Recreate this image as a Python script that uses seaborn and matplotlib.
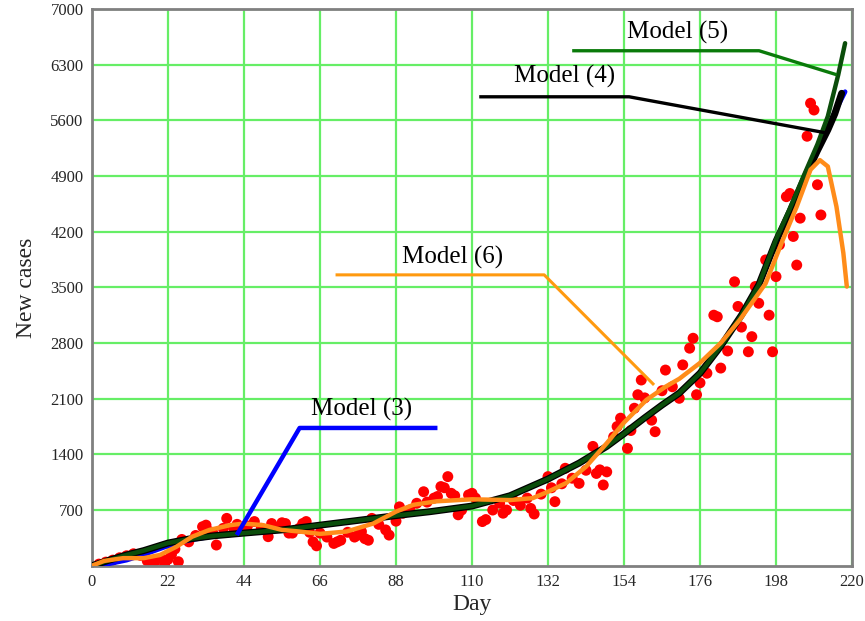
import numpy as np
import pandas as pd
import matplotlib
matplotlib.use("Agg")
import matplotlib.pyplot as plt
import seaborn as sns

# ---- observed data (red dots) ----
obs_days = [2,4,6,8,10,12,14,16,18,20,21,22,23,24,25,26,28,30,32,33,34,35,36,38,39,41,42,44,45,47,
            49,51,52,54,55,56,57,58,60,61,62,63,64,65,66,68,70,71,72,74,76,77,78,79,80,81,83,85,86,88,
            89,90,92,94,96,97,99,100,101,102,103,104,105,106,107,109,110,111,113,114,116,118,119,120,122,124,126,127,128,130,
            132,133,134,136,137,139,141,143,145,146,147,148,149,151,152,153,155,156,157,158,159,160,162,163,165,166,168,170,171,173,
            174,175,176,178,180,181,182,184,186,187,188,190,191,192,193,195,196,197,198,199,201,202,203,204,205,207,208,209,210,211]
obs_cases = [20,45,70,100,125,150,130,60,40,90,10,80,140,210,50,330,300,380,490,510,430,410,260,470,595,470,520,480,500,555,
             470,365,530,480,540,530,410,410,470,530,555,420,300,250,410,360,280,300,320,420,360,385,430,340,320,595,520,450,385,560,
             740,660,700,785,930,800,850,870,995,980,1120,910,880,640,700,890,910,850,555,580,700,785,660,700,820,760,850,720,650,900,
             1120,980,805,1030,1225,1100,1035,1200,1500,1160,1205,1015,1180,1620,1750,1855,1475,1700,1980,2150,2335,2110,1830,1685,2200,2460,2250,2105,2525,2735,
             2860,2150,2300,2420,3150,3130,2485,2700,3570,3260,3000,2690,2880,3510,3300,3845,3150,2690,3635,4035,4640,4680,4140,3780,4370,5400,5815,5730,4790,4410]

# ---- model curves ----
m3_days = [0,5,10,15,22,28,35,44,55,66,78,88,98,110,121,132,141,149,154,160,165,170,176,182,188,193,198,202,206,210,213,215,218]
m3_vals = [0,25,70,140,250,320,370,405,450,510,575,630,680,750,880,1090,1290,1500,1660,1860,2020,2170,2420,2760,3150,3530,4080,4450,4850,5220,5490,5700,5960]

m4_days = [0,5,10,15,22,28,35,44,55,66,78,88,98,110,121,132,141,149,154,160,165,170,176,182,188,193,198,202,206,210,213,215,217]
m4_vals = [0,70,135,190,285,335,375,410,450,510,575,630,680,750,880,1090,1290,1500,1660,1860,2020,2170,2420,2760,3150,3530,4080,4450,4850,5220,5480,5680,5940]

m5_days = [0,5,10,15,22,28,35,44,55,66,78,88,98,110,121,132,141,149,154,160,165,170,176,182,188,193,198,202,206,210,213,216,218]
m5_vals = [0,70,135,190,285,335,375,410,450,510,575,630,680,750,880,1090,1290,1500,1660,1860,2020,2170,2420,2760,3150,3530,4100,4490,4900,5300,5650,6170,6570]

m6_days = [0,3.5,9,15,19.7,24.5,29,34,40,44,49.5,55,60,66,73.7,81.4,88,93,99.8,110,121,127.6,132,137.3,143,149,154,160.5,166,170,176,182,187.5,195,200,204,208,210.7,213,215.5,217.5,218.5]
m6_vals = [0,60,95,95,135,240,365,450,510,530,510,450,430,400,430,530,680,765,810,835,825,850,930,1040,1245,1540,1800,2085,2250,2350,2550,2800,3090,3550,4100,4515,4980,5100,5020,4515,3930,3510]

x_ticks = [0,22,44,66,88,110,132,154,176,198,220]
y_ticks = [700,1400,2100,2800,3500,4200,4900,5600,6300,7000]

# callout anchors (day, cases): curve point, elbow, end, label position
callouts = {
    "Model (3)": dict(pts=[(41.9,386),(60.1,1732),(100,1732)], text=(78,1960), color="#0000ff", lw=3.2),
    "Model (6)": dict(pts=[(162.7,2273),(130.9,3657),(70.5,3657)], text=(104.3,3880), color="#ff9a10", lw=2.2),
    "Model (4)": dict(pts=[(212.4,5443),(155.5,5896),(112.1,5896)], text=(136.7,6150), color="#000000", lw=2.4),
    "Model (5)": dict(pts=[(215.6,6173),(193.1,6475),(139,6475)], text=(169.4,6700), color="#0a7a0a", lw=2.4),
}

sns.set_style("white")
plt.rcParams['font.family'] = ['Liberation Serif', 'DejaVu Serif']

fig = plt.figure(figsize=(8.65, 6.21), dpi=100)
ax = fig.add_axes([92/865, 1-565.7/621, (852-92)/865, (565.7-9)/621])

obs = pd.DataFrame({"day": obs_days, "cases": obs_cases})
sns.scatterplot(data=obs, x="day", y="cases", ax=ax, color="#ff0000", s=62,
                edgecolor="none", linewidth=0, zorder=2)

sns.lineplot(x=m3_days, y=m3_vals, ax=ax, color="#0000ff", lw=3.4, zorder=3)
sns.lineplot(x=m4_days, y=m4_vals, ax=ax, color="#000000", lw=5.0, zorder=4)
sns.lineplot(x=m5_days, y=m5_vals, ax=ax, color="#0b4d0b", lw=3.2, zorder=5)
sns.lineplot(x=m6_days, y=m6_vals, ax=ax, color="#ff8c1a", lw=3.2, zorder=6)

for label, c in callouts.items():
    xs = [p[0] for p in c["pts"]]
    ys = [p[1] for p in c["pts"]]
    ax.plot(xs, ys, color=c["color"], lw=c["lw"], solid_capstyle="butt", zorder=7)
    ax.text(c["text"][0], c["text"][1], label, ha="center", va="center", fontsize=18, color="black", zorder=8)

ax.set_xlim(0, 220)
ax.set_ylim(0, 7000)
ax.set_xticks(x_ticks)
ax.set_yticks(y_ticks)
ax.set_xticklabels([str(t) for t in x_ticks], fontsize=12)
ax.set_yticklabels([str(t) for t in y_ticks], fontsize=12)
ax.tick_params(axis="both", length=0)
ax.tick_params(axis="x", pad=6)
ax.tick_params(axis="y", pad=6)
ax.grid(True, color="#66ee66", lw=1.6)
ax.set_axisbelow(True)
for s in ax.spines.values():
    s.set_color("#808080")
    s.set_linewidth(2)

ax.set_xlabel("Day", fontsize=17, labelpad=3)
ax.set_ylabel("New cases", fontsize=17, labelpad=10)

fig.savefig("out.png", dpi=100)
